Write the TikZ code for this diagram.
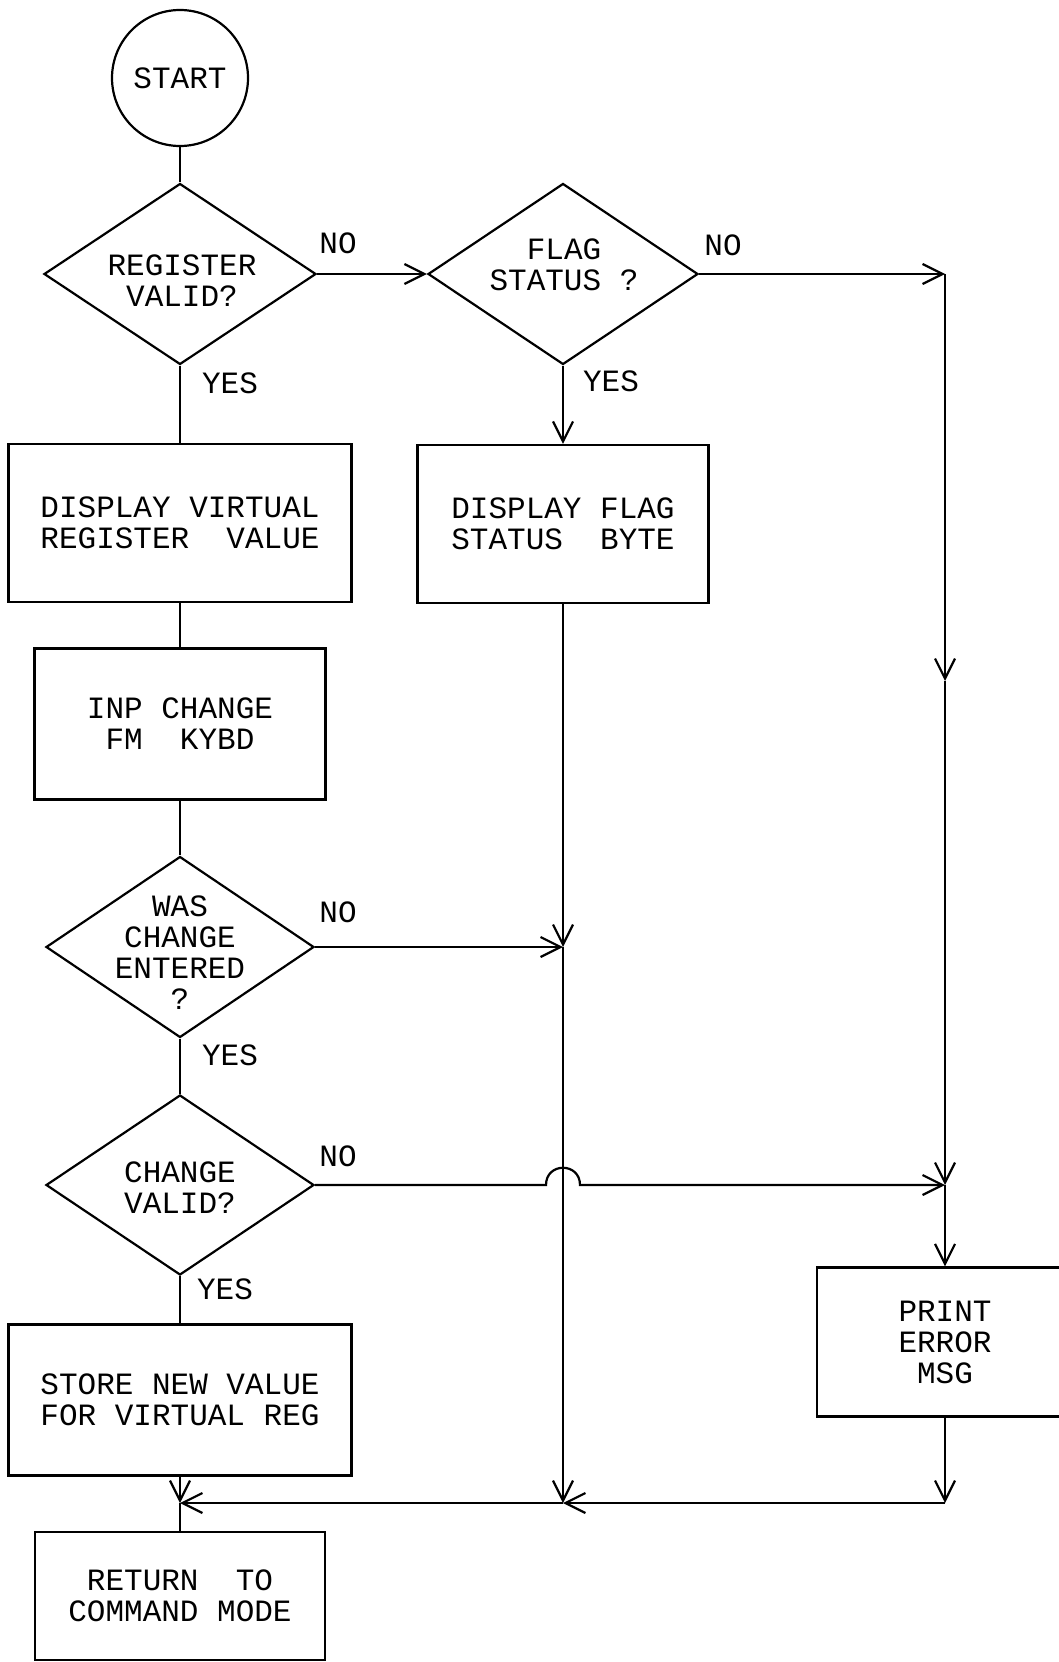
\documentclass[tikz,border=0pt]{standalone}
\usepackage{fontspec}
\setmainfont{Liberation Mono}
\usetikzlibrary{shapes.geometric,arrows.meta,calc}
\begin{document}
\begin{tikzpicture}[x=1pt,y=-1pt,
  every node/.style={font=\fontsize{31}{31}\selectfont},
  ln/.style={line width=2.2pt},
  tip/.style={ln,-{Straight Barb[length=20pt,width=20pt]}},
  proc/.style={draw,ln,rectangle,align=center,inner sep=0pt},
  decision/.style={draw,ln,diamond,inner sep=0pt},
  txt/.style={align=center,inner sep=0pt},
  lbl/.style={inner sep=0pt}]
\useasboundingbox (0,0) rectangle (1059,1662);

% terminal
\node[draw,ln,circle,minimum size=136pt,inner sep=0pt] (start) at (180,78) {START};

% decisions (outline and text drawn separately so the text does not resize the diamond)
\node[decision,minimum width=272pt,minimum height=181pt] (d1) at (180,274) {};
\node[txt] (d1t) at (182,281) {REGISTER\\VALID?};
\node[decision,minimum width=270pt,minimum height=181pt] (d2) at (563,274) {};
\node[txt] (d2t) at (564,265) {FLAG\\STATUS ?};
\node[decision,minimum width=268pt,minimum height=181pt] (d3) at (180,947) {};
\node[txt] (d3t) at (180,953) {WAS\\CHANGE\\ENTERED\\?};
\node[decision,minimum width=268pt,minimum height=180pt] (d4) at (180,1185) {};
\node[txt] (d4t) at (180,1188) {CHANGE\\VALID?};

% process boxes
\node[proc,minimum width=343pt,minimum height=158pt] (b1) at (180,523) {DISPLAY VIRTUAL\\REGISTER~~VALUE};
\node[proc,minimum width=291pt,minimum height=158pt] (b2) at (563,524) {DISPLAY FLAG\\STATUS~~BYTE};
\node[proc,minimum width=291pt,minimum height=151pt] (b3) at (180,724) {INP CHANGE\\FM~~KYBD};
\node[proc,minimum width=343pt,minimum height=151pt] (b4) at (180,1400) {STORE NEW VALUE\\FOR VIRTUAL REG};
\node[proc,minimum width=290pt,minimum height=128pt] (b5) at (180,1596) {RETURN~~TO\\COMMAND MODE};
\node[proc,minimum width=256pt,minimum height=149pt] (b6) at (945,1342) {PRINT\\ERROR\\MSG};

% branch labels
\node[lbl] (no1) at (338,243) {NO};
\node[lbl] (no2) at (723,245) {NO};
\node[lbl] (no3) at (338,912) {NO};
\node[lbl] (no4) at (338,1156) {NO};
\node[lbl] (yes1) at (230,383) {YES};
\node[lbl] (yes2) at (611,381) {YES};
\node[lbl] (yes3) at (230,1055) {YES};
\node[lbl] (yes4) at (225,1289) {YES};

% routing points
\coordinate (c1) at (945,274);
\coordinate (m1) at (945,681);
\coordinate (j1) at (945,1185);
\coordinate (j5) at (563,947);
\coordinate (j2) at (563,1503);
\coordinate (j4) at (945,1503);
\coordinate (j3) at (180,1503);
\coordinate (h1) at (546,1185);
\coordinate (h2) at (580,1185);

% main column
\draw[ln] (start.south) -- (d1.north);
\draw[ln] (d1.south) -- (b1.north);
\draw[ln] (b1.south) -- (b3.north);
\draw[ln] (b3.south) -- (d3.north);
\draw[ln] (d3.south) -- (d4.north);
\draw[ln] (d4.south) -- (b4.north);
\draw[tip] (b4.south) -- (j3);
\draw[ln] (j3) -- (b5.north);

% flag branch
\draw[tip] (d1.east) -- (d2.west);
\draw[tip] (d2.south) -- (b2.north);
\draw[tip] (b2.south) -- (j5);
\draw[tip] (d3.east) -- (j5);
\draw[tip] (j5) -- (j2);

% error branch
\draw[tip] (d2.east) -- (c1);
\draw[tip] (c1) -- (m1);
\draw[tip] (m1) -- (j1);
\draw[tip] (d4.east) -- (h1) .. controls ($(h1)+(0,-23)$) and ($(h2)+(0,-23)$) .. (h2) -- (j1);
\draw[tip] (j1) -- (b6.north);
\draw[tip] (b6.south) -- (j4);
\draw[tip] (j4) -- (j2);
\draw[tip] (j2) -- (j3);
\end{tikzpicture}
\end{document}
